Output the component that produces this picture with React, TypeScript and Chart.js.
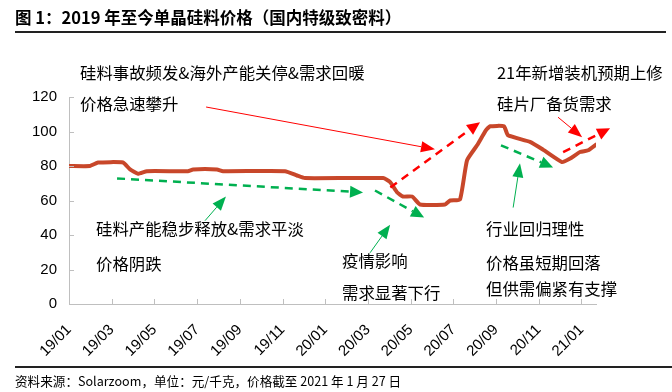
import React, { useEffect, useRef } from 'react';
import { Chart, registerables } from 'chart.js';

Chart.register(...registerables);

const titleText = '图 1：2019 年至今单晶硅料价格（国内特级致密料）';
const sourceText = '资料来源：Solarzoom，单位：元/千克，价格截至 2021 年 1 月 27 日';

// x = months since 2019/01
const priceMonths = [
  0, 0.98, 1.36, 2.53, 2.86, 3.23, 3.65, 5.57, 5.81, 6.93, 7.21, 10.12, 10.68, 11.05,
  14.71, 15.04, 15.36, 15.64, 16.07, 16.44, 17.61, 17.85, 18.31, 18.64, 19.11, 19.53,
  19.72, 20.37, 20.56, 21.59, 22.2, 23.09, 23.47, 23.93, 24.31, 24.68,
];
const priceValues = [
  80, 80, 82, 82, 78, 75.5, 77, 77, 78, 78, 77, 77, 74.5, 73,
  73, 70.7, 64.8, 62.3, 62.3, 57.7, 57.7, 60, 60.6, 83.3, 92, 100.8,
  103, 103, 97.8, 94, 89.5, 82.3, 84.3, 88.1, 89.1, 92.4,
];

const tickMonths = [0, 2, 4, 6, 8, 10, 12, 14, 16, 18, 20, 22, 24];
const tickLabels = ['19/01', '19/03', '19/05', '19/07', '19/09', '19/11', '20/01', '20/03', '20/05', '20/07', '20/09', '20/11', '21/01'];

const xMax = 24.68;
const yMin = 0;
const yMax = 120;
const yStep = 20;

// annotation arrows in data coordinates [month, value]
const redSolidArrows = [
  { from: [6.42, 114.2], to: [17.14, 89.7] },
  { from: [22.9, 108.3], to: [24.03, 96.7] },
];
const redDashedArrows = [
  { from: [15.05, 67.6], to: [19.25, 105.4] },
  { from: [23.14, 88], to: [25.34, 101.9] },
];
const greenDashedArrows = [
  { from: [2.25, 72.8], to: [13.77, 64.7] },
  { from: [14.33, 65.8], to: [16.63, 50.1] },
  { from: [20.23, 92], to: [22.67, 79.2] },
];
const greenSolidArrows = [
  { from: [6.37, 48.3], to: [7.35, 62.3] },
  { from: [14.1, 29.7], to: [15.04, 46] },
  { from: [20.8, 55.9], to: [21.12, 81.6] },
];

const notes = [
  { text: '硅料事故频发&海外产能关停&需求回暖', x: 80, y: 72 },
  { text: '价格急速攀升', x: 80, y: 103 },
  { text: '21年新增装机预期上修', x: 497, y: 72 },
  { text: '硅片厂备货需求', x: 497, y: 103 },
  { text: '硅料产能稳步释放&需求平淡', x: 96, y: 228 },
  { text: '价格阴跌', x: 96, y: 263 },
  { text: '疫情影响', x: 342, y: 260 },
  { text: '需求显著下行', x: 342, y: 292 },
  { text: '行业回归理性', x: 486, y: 228 },
  { text: '价格虽短期回落', x: 486, y: 262 },
  { text: '但供需偏紧有支撑', x: 486, y: 288 },
];

const RED = '#FF0000';
const GREEN = '#00B050';
const LINE = '#C8472A';
const AXIS = '#BFBFBF';

function drawArrow(ctx: CanvasRenderingContext2D, x1: number, y1: number, x2: number, y2: number, color: string, width: number, dash: number[], headLen: number, headW: number) {
  const dx = x2 - x1;
  const dy = y2 - y1;
  const len = Math.sqrt(dx * dx + dy * dy);
  const ux = dx / len;
  const uy = dy / len;
  const bx = x2 - ux * headLen;
  const by = y2 - uy * headLen;
  ctx.save();
  ctx.strokeStyle = color;
  ctx.fillStyle = color;
  ctx.lineWidth = width;
  ctx.setLineDash(dash);
  ctx.beginPath();
  ctx.moveTo(x1, y1);
  ctx.lineTo(bx, by);
  ctx.stroke();
  ctx.setLineDash([]);
  ctx.beginPath();
  ctx.moveTo(x2, y2);
  ctx.lineTo(bx - uy * headW / 2, by + ux * headW / 2);
  ctx.lineTo(bx + uy * headW / 2, by - ux * headW / 2);
  ctx.closePath();
  ctx.fill();
  ctx.restore();
}

const overlayPlugin = {
  id: 'overlay',
  afterDatasetsDraw(chart: any) {
    const ctx: CanvasRenderingContext2D = chart.ctx;
    const x = chart.scales.x;
    const y = chart.scales.y;
    ctx.save();
    ctx.strokeStyle = AXIS;
    ctx.lineWidth = 1;
    x.ticks.forEach((t: any) => {
      const px = Math.round(x.getPixelForValue(t.value)) + 0.5;
      ctx.beginPath();
      ctx.moveTo(px, y.bottom);
      ctx.lineTo(px, y.bottom - 5);
      ctx.stroke();
    });
    y.ticks.forEach((t: any) => {
      const py = Math.round(y.getPixelForValue(t.value)) + 0.5;
      ctx.beginPath();
      ctx.moveTo(x.left, py);
      ctx.lineTo(x.left + 5, py);
      ctx.stroke();
    });
    ctx.restore();
    const P = (p: number[]) => [x.getPixelForValue(p[0]), y.getPixelForValue(p[1])];
    redSolidArrows.forEach((a) => {
      const [x1, y1] = P(a.from);
      const [x2, y2] = P(a.to);
      drawArrow(ctx, x1, y1, x2, y2, RED, 1, [], 14, 11);
    });
    redDashedArrows.forEach((a) => {
      const [x1, y1] = P(a.from);
      const [x2, y2] = P(a.to);
      drawArrow(ctx, x1, y1, x2, y2, RED, 2.5, [8, 6], 13, 12);
    });
    greenDashedArrows.forEach((a) => {
      const [x1, y1] = P(a.from);
      const [x2, y2] = P(a.to);
      drawArrow(ctx, x1, y1, x2, y2, GREEN, 2.5, [8, 6], 13, 12);
    });
    greenSolidArrows.forEach((a) => {
      const [x1, y1] = P(a.from);
      const [x2, y2] = P(a.to);
      drawArrow(ctx, x1, y1, x2, y2, GREEN, 1, [], 14, 11);
    });
  },
};

export default function App() {
  const canvasRef = useRef<HTMLCanvasElement | null>(null);

  useEffect(() => {
    const canvas = canvasRef.current;
    if (!canvas) return;
    const chart = new Chart(canvas, {
      type: 'line',
      data: {
        datasets: [
          {
            data: priceMonths.map((m, i) => ({ x: m, y: priceValues[i] })),
            borderColor: LINE,
            borderWidth: 4,
            pointRadius: 0,
            tension: 0.15,
            borderJoinStyle: 'round',
            borderCapStyle: 'round',
            fill: false,
          },
        ],
      },
      options: {
        responsive: false,
        animation: false,
        layout: { padding: { top: 97, right: 76, bottom: 28, left: 0 } },
        plugins: { legend: { display: false }, tooltip: { enabled: false } },
        scales: {
          x: {
            type: 'linear',
            min: 0,
            max: xMax,
            afterBuildTicks: (scale: any) => {
              scale.ticks = tickMonths.map((v) => ({ value: v }));
            },
            afterFit: (scale: any) => {
              scale.height = 60;
            },
            grid: { display: true, drawOnChartArea: false, drawTicks: false },
            border: { display: true, color: AXIS, width: 1 },
            ticks: {
              autoSkip: false,
              minRotation: 45,
              maxRotation: 45,
              padding: 17,
              color: '#000',
              font: { family: 'Liberation Sans, Arial, sans-serif', size: 15 },
              callback: (v: any) => {
                const i = tickMonths.indexOf(Number(v));
                return i >= 0 ? tickLabels[i] : '';
              },
            },
          },
          y: {
            min: yMin,
            max: yMax,
            afterFit: (scale: any) => {
              scale.width = 69;
            },
            grid: { display: true, drawOnChartArea: false, drawTicks: false },
            border: { display: true, color: AXIS, width: 1 },
            ticks: {
              stepSize: yStep,
              padding: 12,
              color: '#000',
              font: { family: 'Liberation Sans, Arial, sans-serif', size: 15 },
            },
          },
        },
      },
      plugins: [overlayPlugin],
    } as any);
    return () => chart.destroy();
  }, []);

  return (
    <div style={{ position: 'fixed', left: 0, top: 0, width: 672, height: 392, background: '#fff', overflow: 'hidden' }}>
      <canvas ref={canvasRef} width={672} height={392} style={{ position: 'absolute', left: 0, top: 0 }} />
      <div
        style={{
          position: 'absolute', left: 15, top: 6, fontFamily: '"Noto Sans CJK SC", sans-serif', fontWeight: 700,
          fontSize: 16.5, lineHeight: '22px', color: '#000', whiteSpace: 'nowrap',
        }}
      >
        {titleText}
      </div>
      <div style={{ position: 'absolute', left: 15, top: 31, width: 651, height: 2, background: '#222' }} />
      <div style={{ position: 'absolute', left: 15, top: 366, width: 657, height: 2, background: '#222' }} />
      <div
        style={{
          position: 'absolute', left: 15, top: 372, fontFamily: '"Noto Sans CJK SC", sans-serif',
          fontSize: 12.6, lineHeight: '18px', color: '#000', whiteSpace: 'nowrap',
        }}
      >
        {sourceText}
      </div>
      {notes.map((n, i) => (
        <div
          key={i}
          style={{
            position: 'absolute', left: n.x, top: n.y - 11, fontFamily: '"Noto Sans CJK SC", sans-serif',
            fontSize: 16.4, lineHeight: '22px', color: '#000', whiteSpace: 'nowrap',
          }}
        >
          {n.text}
        </div>
      ))}
    </div>
  );
}
